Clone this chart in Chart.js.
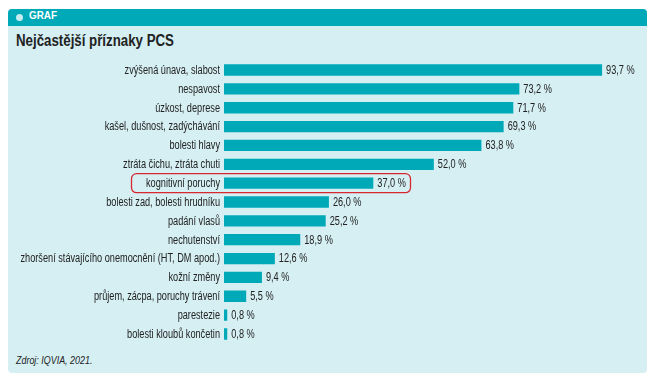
<!DOCTYPE html>
<html><head><meta charset="utf-8">
<script src="https://cdn.jsdelivr.net/npm/chart.js@4.4.1/dist/chart.umd.min.js"></script>
<style>
html,body{margin:0;padding:0;background:#fff;width:667px;height:383px;overflow:hidden;}
#panel{position:absolute;left:8px;top:9px;width:639px;height:364px;background:#d5eff3;border-radius:4px;}
#hdr{position:absolute;left:8px;top:9px;width:639px;height:17px;background:#00a9b7;border-radius:4px 4px 0 0;}
#dot{position:absolute;left:16px;top:14px;width:7px;height:7px;border-radius:50%;background:#c6ecf1;}
#graf{position:absolute;left:29px;top:9px;height:17px;line-height:17px;color:#fff;font:bold 11px "Liberation Sans",Arial,sans-serif;transform:scaleX(0.9);transform-origin:left center;}
#title{position:absolute;left:16px;top:32px;color:#222;font:bold 16px "Liberation Sans",Arial,sans-serif;white-space:nowrap;transform:scaleX(0.83);transform-origin:left center;}
#src{position:absolute;left:16px;top:354px;color:#222;font:italic 10.5px "Liberation Sans",Arial,sans-serif;white-space:nowrap;transform:scaleX(0.85);transform-origin:left center;}
#c{position:absolute;left:0;top:0;}
</style></head><body>
<div id="panel"></div><div id="hdr"></div><div id="dot"></div>
<div id="graf">GRAF</div>
<div id="title">Nejčastější příznaky PCS</div>
<div id="src">Zdroj: IQVIA, 2021.</div>
<canvas id="c" width="667" height="383"></canvas>
<script>
const categories = [
  "zvýšená únava, slabost",
  "nespavost",
  "úzkost, deprese",
  "kašel, dušnost, zadýchávání",
  "bolesti hlavy",
  "ztráta čichu, ztráta chuti",
  "kognitivní poruchy",
  "bolesti zad, bolesti hrudníku",
  "padání vlasů",
  "nechutenství",
  "zhoršení stávajícího onemocnění (HT, DM apod.)",
  "kožní změny",
  "průjem, zácpa, poruchy trávení",
  "parestezie",
  "bolesti kloubů končetin"
];
const values = [93.7, 73.2, 71.7, 69.3, 63.8, 52.0, 37.0, 26.0, 25.2, 18.9, 12.6, 9.4, 5.5, 0.8, 0.8];
const highlighted = "kognitivní poruchy";

const FONT = '"Liberation Sans",Arial,sans-serif';
const SQUEEZE = 0.765;

function narrowText(ctx, text, x, y, align) {
  ctx.save();
  ctx.translate(x, y);
  ctx.scale(SQUEEZE, 1);
  ctx.textAlign = align;
  ctx.fillText(text, 0, 0);
  ctx.restore();
}

const textLayer = {
  id: 'textLayer',
  afterDatasetsDraw(chart) {
    const ctx = chart.ctx;
    const meta = chart.getDatasetMeta(0);
    const ys = chart.scales.y;
    ctx.save();
    ctx.font = '12px ' + FONT;
    ctx.fillStyle = '#222';
    ctx.textBaseline = 'middle';
    categories.forEach((c, i) => {
      narrowText(ctx, c, ys.right - 4, ys.getPixelForValue(i) + 0.5, 'right');
    });
    meta.data.forEach((bar, i) => {
      const t = values[i].toFixed(1).replace('.', ',') + ' %';
      narrowText(ctx, t, bar.x + 4, bar.y + 0.5, 'left');
    });
    ctx.restore();
  }
};

const highlightBox = {
  id: 'highlightBox',
  afterDraw(chart) {
    const i = categories.indexOf(highlighted);
    const y = chart.scales.y.getPixelForValue(i);
    const ctx = chart.ctx;
    const x0 = 131.5, x1 = 410.5, y0 = y - 9.5, y1 = y + 9.5, r = 5;
    ctx.save();
    ctx.strokeStyle = '#d6282f';
    ctx.lineWidth = 1.3;
    ctx.beginPath();
    ctx.roundRect(x0, y0, x1 - x0, y1 - y0, r);
    ctx.stroke();
    ctx.restore();
  }
};

new Chart(document.getElementById('c'), {
  type: 'bar',
  data: {
    labels: categories,
    datasets: [{
      data: values,
      backgroundColor: '#00a9b8',
      barPercentage: 0.6,
      categoryPercentage: 1.0
    }]
  },
  options: {
    indexAxis: 'y',
    responsive: false,
    animation: false,
    layout: { padding: { left: 0, right: 39.5, top: 60.6, bottom: 39.6 } },
    plugins: { legend: { display: false }, tooltip: { enabled: false } },
    scales: {
      x: { display: false, min: 0, max: 100 },
      y: {
        grid: { display: false, drawTicks: false },
        border: { display: false },
        ticks: { display: false },
        afterFit(scale) { scale.width = 224; }
      }
    }
  },
  plugins: [textLayer, highlightBox]
});
</script>
</body></html>
